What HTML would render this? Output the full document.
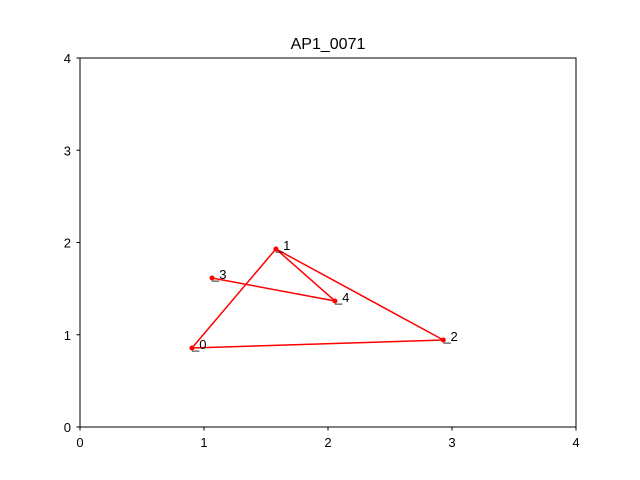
<!DOCTYPE html>
<html><head><meta charset="utf-8"><style>body{margin:0;background:#fff}svg{display:block;font-family:"Liberation Sans","DejaVu Sans",sans-serif}</style></head>
<body>
<svg id="chart" width="640" height="480" viewBox="0 0 640 480" xmlns="http://www.w3.org/2000/svg">
<rect x="0" y="0" width="640" height="480" fill="#fff"/>
<text x="328" y="49" font-size="16" text-anchor="middle">AP1_0071</text>
<g id="ticks"></g>
<g id="marks"></g>
<rect x="80" y="58" width="496" height="369" fill="none" stroke="#000" stroke-width="1"/>
</svg>
<script>
const xs = [0.903, 1.58, 2.93, 1.065, 2.056];
const ys = [0.856, 1.93, 0.943, 1.615, 1.366];
const pointLabels = ["0","1","2","3","4"];
const edgeFrom = [3, 4, 1, 0, 2];
const edgeTo = [4, 1, 0, 2, 1];
const xTicks = [0,1,2,3,4];
const yTicks = [0,1,2,3,4];
const X = v => 80 + v/4*496;
const Y = v => 427 - v/4*369;
const NS = "http://www.w3.org/2000/svg";
const ticks = document.getElementById('ticks');
const marks = document.getElementById('marks');
function mk(tag, attrs, parent){const e=document.createElementNS(NS,tag);for(const k in attrs)e.setAttribute(k,attrs[k]);parent.appendChild(e);return e;}
xTicks.forEach(t=>{
  const l=mk('line',{x1:X(t),x2:X(t),y1:427,y2:430.5,stroke:'#000'},ticks);
  
  
  const tx=mk('text',{x:X(t),y:447,'font-size':13,'text-anchor':'middle'},ticks);
  tx.textContent=t;
  
  
});
yTicks.forEach(t=>{
  const l=mk('line',{x1:76.5,x2:80,y1:Y(t),y2:Y(t),stroke:'#000'},ticks);
  
  
  const tx=mk('text',{x:71,y:Y(t)+5,'font-size':13,'text-anchor':'end'},ticks);
  tx.textContent=t;
  
  
});
edgeFrom.forEach((a,i)=>{
  const b=edgeTo[i];
  const l=mk('line',{x1:X(xs[a]),y1:Y(ys[a]),x2:X(xs[b]),y2:Y(ys[b]),stroke:'#ff0000','stroke-width':1.5},marks);
  
  
});
xs.forEach((x,i)=>{
  const c=mk('circle',{cx:X(x),cy:Y(ys[i]),r:2.5,fill:'#ff0000'},marks);
  
  
  const tx=mk('text',{x:X(x),y:Y(ys[i])+1,'font-size':13},marks);
  tx.textContent='_'+pointLabels[i];
  
  
});
</script>
</body></html>
